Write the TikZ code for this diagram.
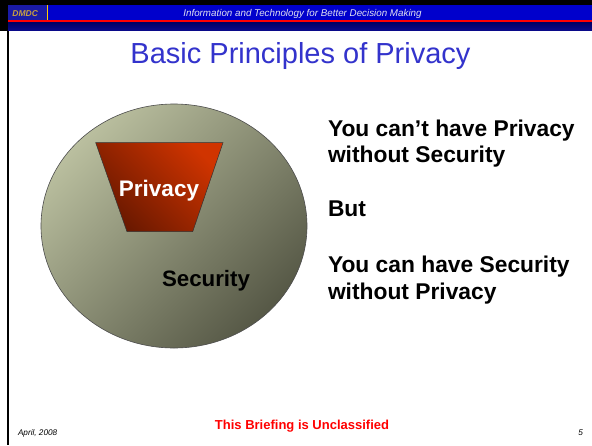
\documentclass[tikz,border=0pt]{standalone}
\usepackage{fontspec}
\setmainfont{Liberation Sans}
\definecolor{barblue}{HTML}{0000CC}
\definecolor{boxblue}{HTML}{1A1AA6}
\definecolor{navytop}{HTML}{000066}
\definecolor{navybot}{HTML}{0A0A8C}
\definecolor{gold}{HTML}{C8A040}
\definecolor{titleblue}{HTML}{3333CC}
\definecolor{circlight}{HTML}{BABF9F}
\definecolor{circdark}{HTML}{565846}
\definecolor{trapor}{HTML}{D03400}
\definecolor{trapdark}{HTML}{681800}
\definecolor{footred}{HTML}{FF0000}
\tikzset{
  txt/.style={inner sep=0pt, outer sep=0pt},
  bodytext/.style={txt, anchor=base west, align=left, font=\fontsize{22.8}{26.5}\selectfont\bfseries},
}
\begin{document}
\begin{tikzpicture}[x=1pt,y=-1pt]
\useasboundingbox (0,0) rectangle (592,445);
\fill[white] (0,0) rectangle (592,445);
% header
\fill[black] (0,0) rectangle (592,5);
\fill[black] (0,0) rectangle (8,31);
\fill[black] (6.5,31) rectangle (8.5,445);
\fill[barblue] (8,5) rectangle (592,19.5);
\fill[boxblue] (8,5) rectangle (47,19.5);
\draw[color={rgb,255:red,255;green,204;blue,0}, line width=0.8pt] (47,5) -- (47,19.5);
\fill[footred] (8,19.5) rectangle (592,22.7);
\shade[top color=navytop, bottom color=navybot] (8,22.7) rectangle (592,30.7);
\node[txt, anchor=base west, text=gold, font=\fontsize{8.5}{10}\selectfont\bfseries\itshape] (dmdc) at (12.5,16) {DMDC};
\node[txt, anchor=base, text={rgb,255:red,225;green,225;blue,240}, font=\fontsize{9.8}{11}\selectfont\itshape] (tag) at (302.5,16.5) {Information and Technology for Better Decision Making};
% title
\node[txt, anchor=base, text=titleblue, font=\fontsize{29}{33}\selectfont] (title) at (300.5,63) {Basic Principles of Privacy};
% circle
\shade[top color=circlight, bottom color=circdark, shading angle=45, draw=black!70, line width=0.6pt]
  (174,226) ellipse [x radius=133, y radius=122];
\coordinate (circ) at (174,226);
% trapezoid
\shade[top color=trapor, bottom color=trapdark, shading angle=-45, draw=black!80, line width=0.5pt]
  (95.7,142.7) -- (223,142.7) -- (192.7,231.7) -- (127,231.7) -- cycle;
\node[txt, anchor=base, text=white, font=\fontsize{22.5}{26}\selectfont\bfseries] (priv) at (159,196) {Privacy};
\node[txt, anchor=base, text=black, font=\fontsize{22.3}{26}\selectfont\bfseries] (sec) at (206,286) {Security};
% right text (base anchor = last line)
\node[bodytext] (l1) at (328,162.5) {You can’t have Privacy\\without Security};
\node[bodytext] (l2) at (328,216) {But};
\node[bodytext] (l3) at (328,299) {You can have Security\\without Privacy};
% footer
\node[txt, anchor=base, text=footred, font=\fontsize{13}{15}\selectfont\bfseries] (unc) at (302,429) {This Briefing is Unclassified};
\node[txt, anchor=base west, font=\fontsize{8.2}{10}\selectfont\itshape] (date) at (18,435.5) {April, 2008};
\node[txt, anchor=base east, font=\fontsize{8.2}{10}\selectfont\itshape] (page) at (583,435.5) {5};
\end{tikzpicture}
\end{document}
